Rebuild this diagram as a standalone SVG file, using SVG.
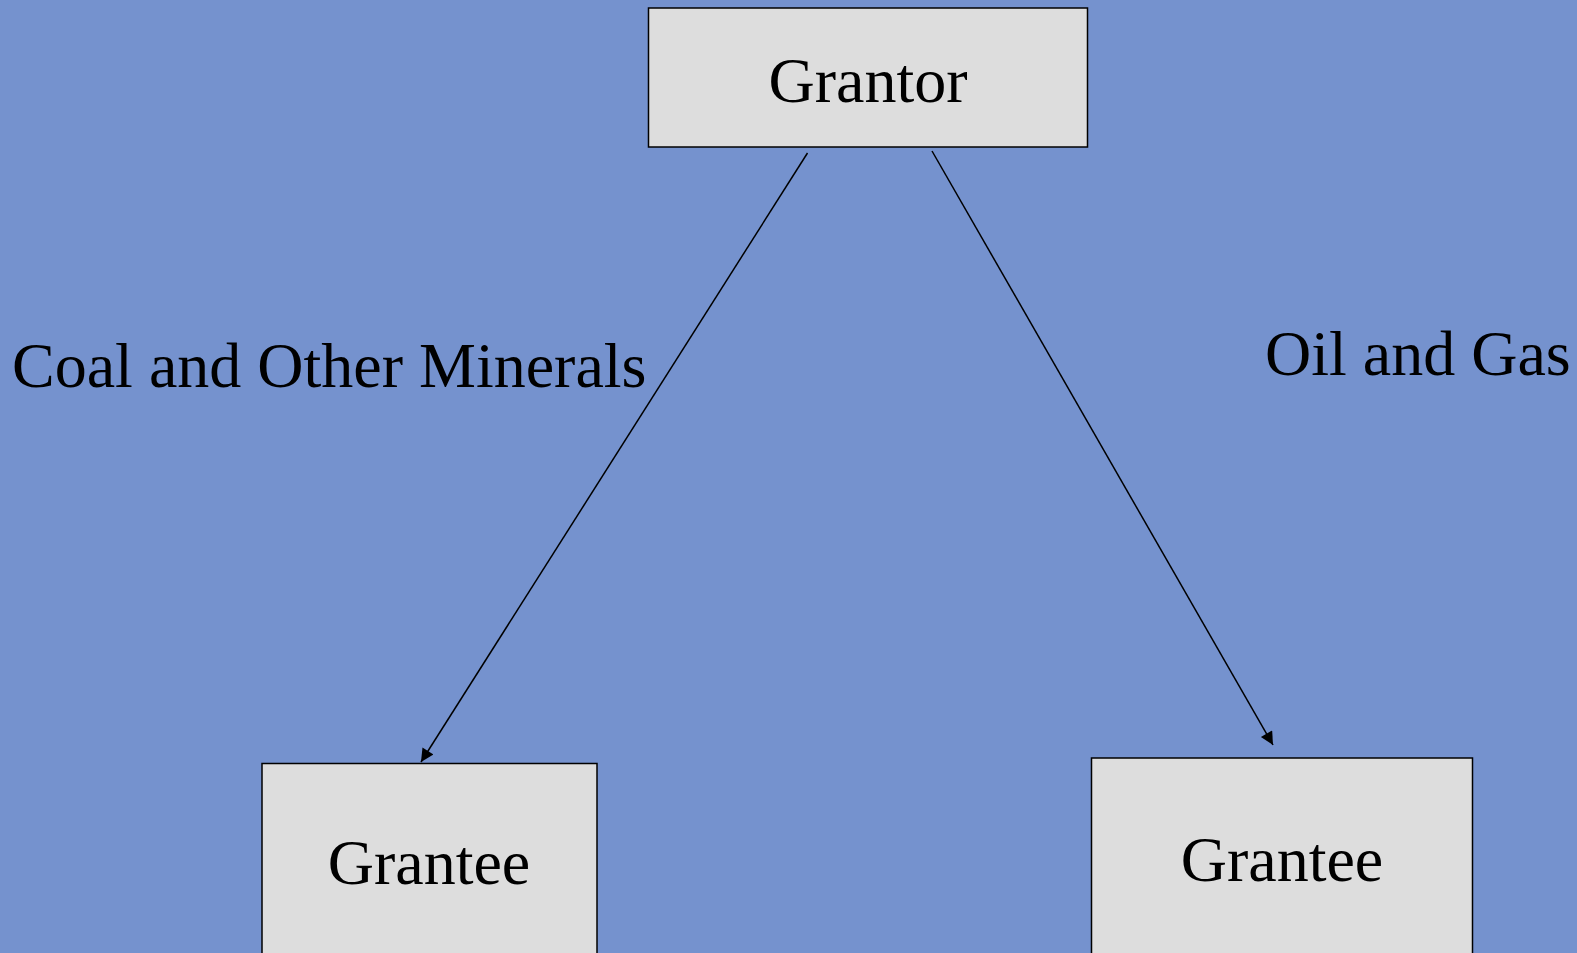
<svg xmlns="http://www.w3.org/2000/svg" width="1577" height="953" viewBox="0 0 1577 953">
  <style>
    .box { fill: #dddddd; stroke: #000; stroke-width: 1.5; }
    .label { font-family: "Liberation Serif", "Times New Roman", serif; font-size: 64px; fill: #000; }
    .mid { text-anchor: middle; }
    .edge { stroke: #000; stroke-width: 1.5; fill: none; marker-end: url(#arrow); }
  </style>
  <defs>
    <marker id="arrow" viewBox="0 0 10 10" refX="10" refY="5" markerWidth="17" markerHeight="13" markerUnits="userSpaceOnUse" orient="auto">
      <path d="M0,0 L10,5 L0,10 z" fill="#000"/>
    </marker>
  </defs>
  <rect width="1577" height="953" fill="#7592ce"/>

  <g id="connectors">
    <line class="edge" x1="807.5" y1="153" x2="421" y2="762"/>
    <line class="edge" x1="932" y1="151" x2="1273" y2="745"/>
  </g>

  <g id="grantor">
    <rect class="box" x="648.5" y="8" width="439" height="139"/>
    <text class="label mid" x="868" y="101.5">Grantor</text>
  </g>

  <g id="grantee-left">
    <rect class="box" x="262" y="763.5" width="335" height="200"/>
    <text class="label mid" x="429" y="884">Grantee</text>
  </g>

  <g id="grantee-right">
    <rect class="box" x="1091.5" y="758" width="381" height="205"/>
    <text class="label mid" x="1282" y="881">Grantee</text>
  </g>

  <g id="edge-labels">
    <text class="label" x="12" y="387">Coal and Other Minerals</text>
    <text class="label" x="1265" y="375">Oil and Gas</text>
  </g>
</svg>
